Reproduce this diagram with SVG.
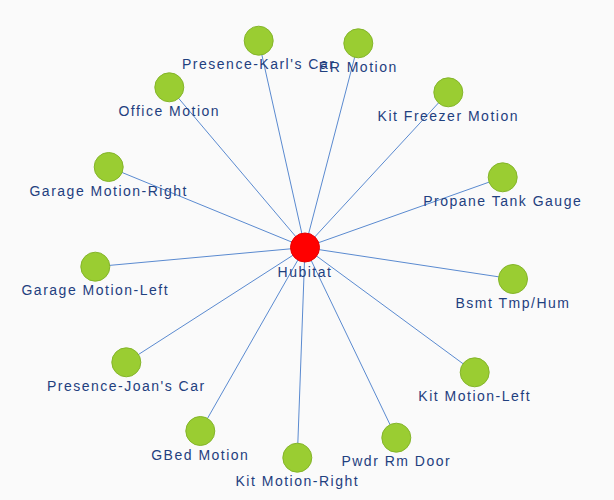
<svg xmlns="http://www.w3.org/2000/svg" width="614" height="500" viewBox="0 0 614 500">
<style>
.bg{fill:#fafafa}
.edge{stroke:#5a8ad0;stroke-width:1;fill:none}
.n{fill:#9acd32;stroke:#84b52a;stroke-width:1}
.hub{fill:#ff0000;stroke:#e60000;stroke-width:1}
.lbl{font-family:"Liberation Sans",Arial,sans-serif;font-size:14px;letter-spacing:1.5px;fill:#1f407f;text-anchor:middle}
</style>
<rect class="bg" x="0" y="0" width="614" height="500"/>
<g id="connectors">
<line class="edge" x1="305" y1="247.5" x2="258.7" y2="40.7"/>
<line class="edge" x1="305" y1="247.5" x2="358.3" y2="43.3"/>
<line class="edge" x1="305" y1="247.5" x2="169.3" y2="87.3"/>
<line class="edge" x1="305" y1="247.5" x2="448.3" y2="92.3"/>
<line class="edge" x1="305" y1="247.5" x2="108.7" y2="167"/>
<line class="edge" x1="305" y1="247.5" x2="502.7" y2="177.3"/>
<line class="edge" x1="305" y1="247.5" x2="95.3" y2="266.7"/>
<line class="edge" x1="305" y1="247.5" x2="513" y2="279"/>
<line class="edge" x1="305" y1="247.5" x2="126.3" y2="362.3"/>
<line class="edge" x1="305" y1="247.5" x2="474.7" y2="372.3"/>
<line class="edge" x1="305" y1="247.5" x2="200.3" y2="431"/>
<line class="edge" x1="305" y1="247.5" x2="396.3" y2="437.7"/>
<line class="edge" x1="305" y1="247.5" x2="297.3" y2="457.7"/>
</g>
<g id="node-presence-karl"><circle class="n" cx="258.7" cy="40.7" r="14.5"/><text class="lbl" x="258.7" y="69.4">Presence-Karl's Car</text></g>
<g id="node-er-motion"><circle class="n" cx="358.3" cy="43.3" r="14.5"/><text class="lbl" x="358.3" y="72">ER Motion</text></g>
<g id="node-office-motion"><circle class="n" cx="169.3" cy="87.3" r="14.5"/><text class="lbl" x="169.3" y="116">Office Motion</text></g>
<g id="node-kit-freezer"><circle class="n" cx="448.3" cy="92.3" r="14.5"/><text class="lbl" x="448.3" y="121">Kit Freezer Motion</text></g>
<g id="node-garage-right"><circle class="n" cx="108.7" cy="167" r="14.5"/><text class="lbl" x="108.7" y="195.7">Garage Motion-Right</text></g>
<g id="node-propane"><circle class="n" cx="502.7" cy="177.3" r="14.5"/><text class="lbl" x="502.7" y="206">Propane Tank Gauge</text></g>
<g id="node-garage-left"><circle class="n" cx="95.3" cy="266.7" r="14.5"/><text class="lbl" x="95.3" y="295.4">Garage Motion-Left</text></g>
<g id="node-bsmt"><circle class="n" cx="513" cy="279" r="14.5"/><text class="lbl" x="513" y="307.7">Bsmt Tmp/Hum</text></g>
<g id="node-presence-joan"><circle class="n" cx="126.3" cy="362.3" r="14.5"/><text class="lbl" x="126.3" y="391">Presence-Joan's Car</text></g>
<g id="node-kit-left"><circle class="n" cx="474.7" cy="372.3" r="14.5"/><text class="lbl" x="474.7" y="401">Kit Motion-Left</text></g>
<g id="node-gbed"><circle class="n" cx="200.3" cy="431" r="14.5"/><text class="lbl" x="200.3" y="459.7">GBed Motion</text></g>
<g id="node-pwdr"><circle class="n" cx="396.3" cy="437.7" r="14.5"/><text class="lbl" x="396.3" y="466.4">Pwdr Rm Door</text></g>
<g id="node-kit-right"><circle class="n" cx="297.3" cy="457.7" r="14.5"/><text class="lbl" x="297.3" y="486.4">Kit Motion-Right</text></g>
<g id="node-hubitat"><circle class="hub" cx="305" cy="247.5" r="14.5"/><text class="lbl" x="305" y="276.5">Hubitat</text></g>
</svg>
